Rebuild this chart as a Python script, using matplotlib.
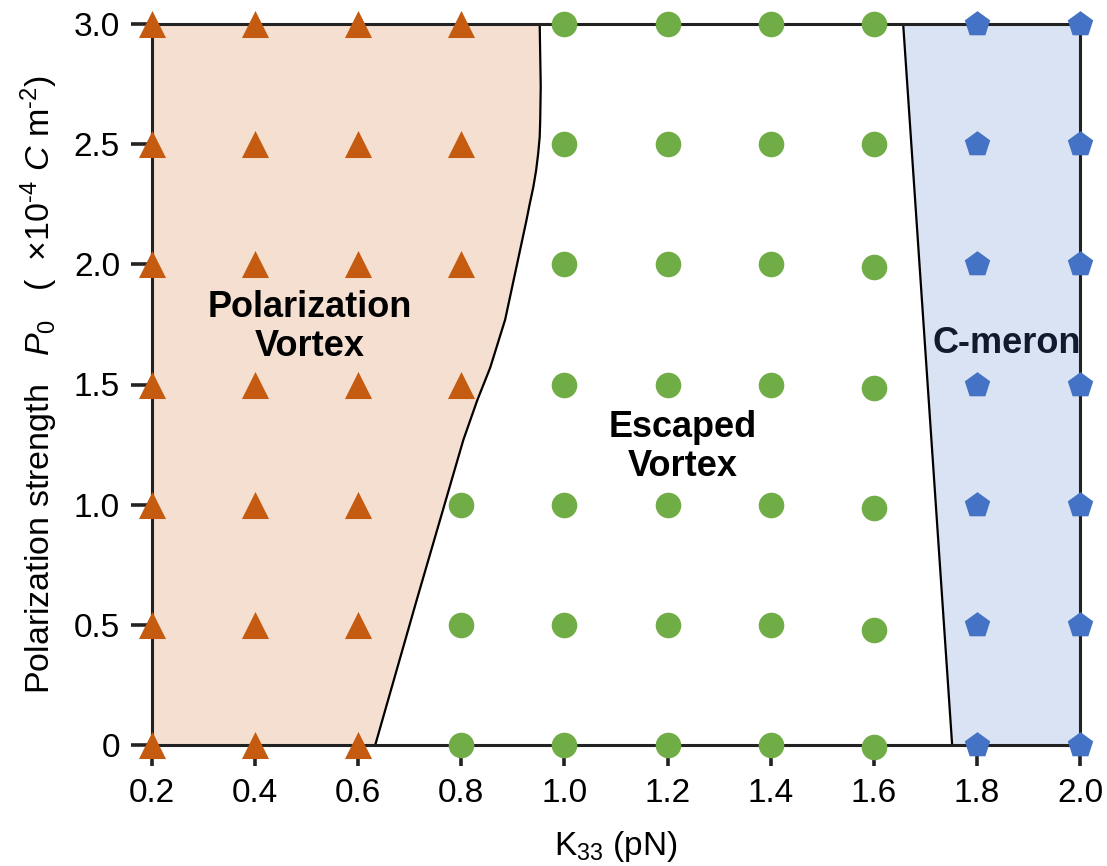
import matplotlib
matplotlib.use("Agg")
import matplotlib.pyplot as plt
import numpy as np

plt.rcParams['font.family'] = ['Liberation Sans', 'DejaVu Sans']
plt.rcParams['mathtext.fontset'] = 'custom'
plt.rcParams['mathtext.rm'] = 'Liberation Sans'
plt.rcParams['mathtext.it'] = 'Liberation Sans:italic'
plt.rcParams['mathtext.bf'] = 'Liberation Sans:bold'

# phase points: polarization vortex (triangles)
vortex_K = [0.2]*7 + [0.4]*7 + [0.6]*7 + [0.8]*4
vortex_P = [0, 0.5, 1.0, 1.5, 2.0, 2.5, 3.0]*3 + [1.5, 2.0, 2.5, 3.0]

# escaped vortex (circles)
escaped_K = [0.8]*3 + [1.0]*7 + [1.2]*7 + [1.4]*7 + [1.6]*7
escaped_P = ([0, 0.5, 1.0]
             + [0, 0.5, 1.0, 1.5, 2.0, 2.5, 3.0]
             + [0, 0.5, 1.0, 1.5, 2.0, 2.5, 3.0]
             + [0, 0.5, 1.0, 1.5, 2.0, 2.5, 3.0]
             + [-0.01, 0.48, 0.985, 1.485, 1.99, 2.5, 3.0])

# c-meron (pentagons)
meron_K = [1.8]*7 + [2.0]*7
meron_P = [0, 0.5, 1.0, 1.5, 2.0, 2.5, 3.0]*2

# phase boundaries
left_P = [0, 0.60, 1.27, 1.435, 1.57, 1.77, 1.99, 2.18, 2.255, 2.32, 2.39, 2.46, 2.53, 2.60, 2.74, 3.0]
left_K = [0.633, 0.713, 0.804, 0.831, 0.856, 0.885, 0.907, 0.926, 0.933, 0.9395, 0.945, 0.949, 0.952, 0.953, 0.954, 0.952]
right_P = [0, 3.0]
right_K = [1.752, 1.657]

fig = plt.figure(figsize=(11.07, 8.66), dpi=100)
ax = fig.add_axes([152/1107, 121/866, 928/1107, 721/866])

ax.fill_betweenx(left_P, 0.2, left_K, color="#f5dfd1", lw=0, zorder=0)
ax.fill_betweenx(right_P, right_K, 2.0, color="#dae3f3", lw=0, zorder=0)
ax.plot(left_K, left_P, color="black", lw=1.6, zorder=1)
ax.plot(right_K, right_P, color="black", lw=1.6, zorder=1)

ax.scatter(vortex_K, vortex_P, marker="^", s=380, color="#c55a11", lw=0, zorder=5, clip_on=False)
ax.scatter(escaped_K, escaped_P, marker="o", s=340, color="#70ad47", lw=0, zorder=5, clip_on=False)
ax.scatter(meron_K, meron_P, marker="p", s=370, color="#4472c4", lw=0, zorder=5, clip_on=False)

ax.text(0.506, 1.74, "Polarization\nVortex", ha="center", va="center",
        fontsize=26, fontweight="bold", linespacing=1.15)
ax.text(1.23, 1.24, "Escaped\nVortex", ha="center", va="center",
        fontsize=26, fontweight="bold", linespacing=1.15)
ax.text(1.857, 1.67, "C-meron", ha="center", va="center",
        fontsize=26, fontweight="bold", color="#111a2e", zorder=6)

ax.set_xlim(0.2, 2.0)
ax.set_ylim(0, 3.0)
ax.set_xticks(np.arange(0.2, 2.01, 0.2))
ax.set_xticklabels(["0.2", "0.4", "0.6", "0.8", "1.0", "1.2", "1.4", "1.6", "1.8", "2.0"])
ax.set_yticks([0, 0.5, 1.0, 1.5, 2.0, 2.5, 3.0])
ax.set_yticklabels(["0", "0.5", "1.0", "1.5", "2.0", "2.5", "3.0"])
ax.tick_params(direction="out", length=15, width=2.6, labelsize=24, color="#222222")
ax.tick_params(axis="x", pad=9)
ax.tick_params(axis="y", pad=8)

for sp in ax.spines.values():
    sp.set_linewidth(2.2)
    sp.set_color("#222222")
    sp.set_zorder(2)

ax.set_xlabel(r"K$_{33}$ (pN)", fontsize=24, labelpad=14)
ax.set_ylabel(r"Polarization strength   $P_0$   (  ×10$^{\text{-}4}$ $C$ m$^{\text{-}2}$)",
              fontsize=24.5, labelpad=10)

fig.savefig("out.png", dpi=100)
